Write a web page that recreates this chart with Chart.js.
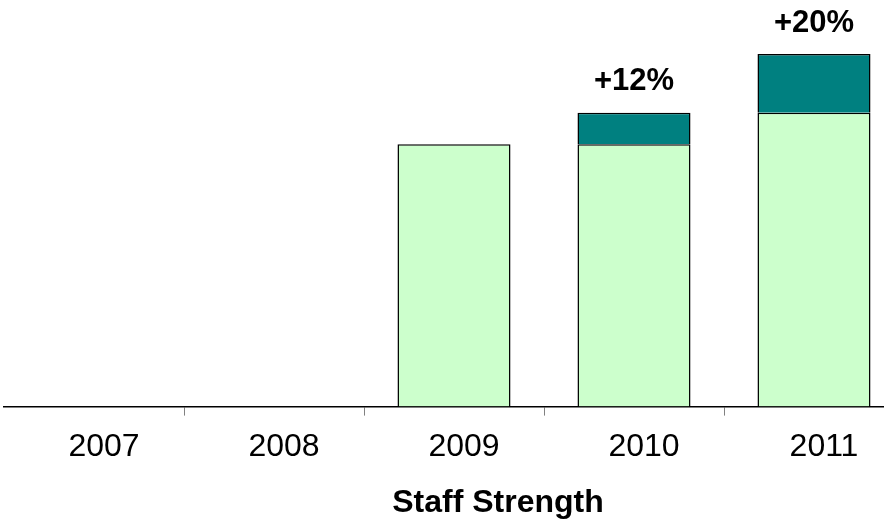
<!DOCTYPE html>
<html>
<head>
<meta charset="utf-8">
<script src="https://cdn.jsdelivr.net/npm/chart.js@4"></script>
<style>
  html, body { margin: 0; padding: 0; background: #fff; overflow: hidden; }
  #wrap { width: 910px; height: 521px; }
</style>
</head>
<body>
<div id="wrap"><canvas id="staffchart" width="910" height="521"></canvas></div>
<script>
const years = ['2007', '2008', '2009', '2010', '2011'];
const baseStaff = [null, null, 100, 100, 112];
const addedStaff = [null, null, null, 12, 22.4];
const growthLabels = ['', '', '', '+12%', '+20%'];
const axisTitle = 'Staff Strength';

const FONT = "Arial, 'Liberation Sans', sans-serif";

// growth % above each stack, plus the axis caption (sits right of centre in the original)
const annotatePlugin = {
    id: 'annotate',
    afterDraw(chart) {
        const ctx = chart.ctx;
        const meta = chart.getDatasetMeta(1);
        const area = chart.chartArea;
        ctx.save();
        ctx.fillStyle = '#000';
        ctx.textAlign = 'center';
        ctx.textBaseline = 'middle';
        ctx.font = 'bold 31px ' + FONT;
        growthLabels.forEach(function (txt, i) {
            if (!txt) return;
            const bar = meta.data[i];
            ctx.fillText(txt, bar.x, bar.y - 31);
        });
        ctx.font = 'bold 32px ' + FONT;
        ctx.fillText(axisTitle, (area.left + area.right) / 2 + 44, area.bottom + 97);
        ctx.restore();
    }
};

document.addEventListener("DOMContentLoaded", function () {
    const ctx = document.getElementById('staffchart').getContext('2d');
    const last = years.length;

    new Chart(ctx, {
        type: 'bar',
        data: {
            labels: years,
            datasets: [{
                label: 'Base',
                data: baseStaff,
                backgroundColor: '#CCFFCC',
                borderColor: '#000',
                borderWidth: 1.5,
                barPercentage: 0.628,
                categoryPercentage: 1,
            }, {
                label: 'Added',
                data: addedStaff,
                backgroundColor: '#008080',
                borderColor: '#000',
                borderWidth: 1.5,
                barPercentage: 0.628,
                categoryPercentage: 1,
            }]
        },
        options: {
            responsive: false,
            animation: false,
            layout: { padding: { left: 4, right: 6, top: 0, bottom: 43 } },
            plugins: {
                legend: { display: false },
                tooltip: { enabled: false },
            },
            scales: {
                x: {
                    stacked: true,
                    border: { display: true, color: '#000', width: 1.5 },
                    grid: {
                        drawOnChartArea: false,
                        drawTicks: true,
                        tickLength: 9,
                        color: function (c) {
                            return (c.index === 0 || c.index === last) ? 'rgba(0,0,0,0)' : '#808080';
                        },
                    },
                    ticks: {
                        color: '#000',
                        font: { family: FONT, size: 32 },
                        padding: 12,
                        labelOffset: 10,
                        maxRotation: 0,
                    },
                },
                y: {
                    stacked: true,
                    display: false,
                    min: 0,
                    max: 155,
                },
            },
        },
        plugins: [annotatePlugin],
    });
});
</script>
</body>
</html>
